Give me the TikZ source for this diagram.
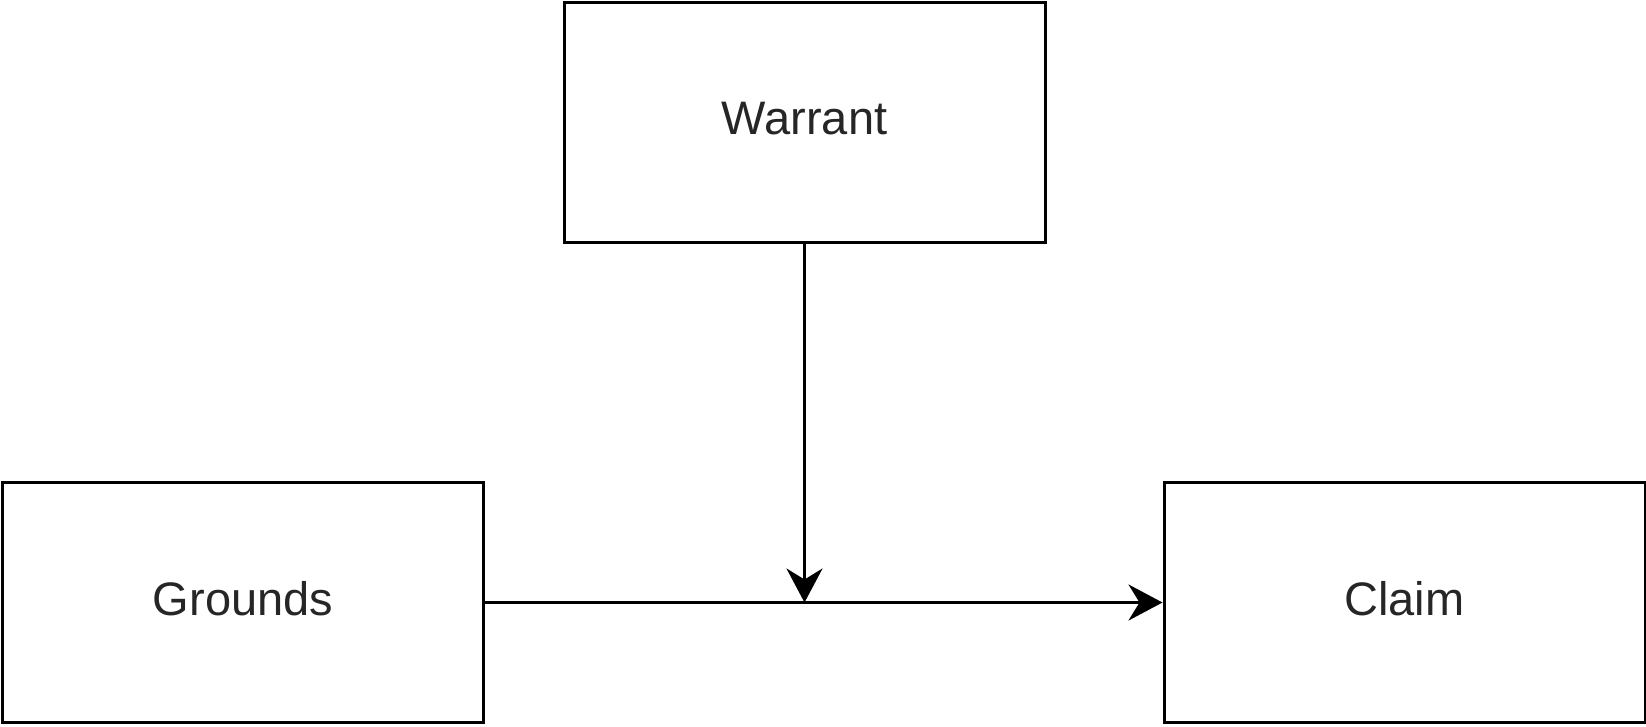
\documentclass[tikz,border=0pt]{standalone}
\usepackage{fontspec}
\setmainfont{Liberation Sans}
\usetikzlibrary{arrows.meta}
\begin{document}
\begin{tikzpicture}[x=1pt,y=1pt,
  box/.style={draw=black, line width=3pt, rectangle, minimum width=481pt, minimum height=240pt, inner sep=0pt, text depth=8pt, text=black!85, font=\fontsize{47}{56}\selectfont},
  conn/.style={draw=black, line width=3pt, -{Stealth[length=34pt, width=36pt, inset=11pt]}}]
\useasboundingbox (0,0) rectangle (1646,-726);
\node[box] (warrant) at (804.5,-122.5) {Warrant};
\node[box] (grounds) at (243,-602.5) {Grounds};
\node[box] (claim) at (1404.5,-602.5) {Claim};
\coordinate (join) at (804.5,-602.5);
\draw[conn] (grounds.east) -- (claim.west);
\draw[conn] (warrant.south) -- (join);
\end{tikzpicture}
\end{document}
